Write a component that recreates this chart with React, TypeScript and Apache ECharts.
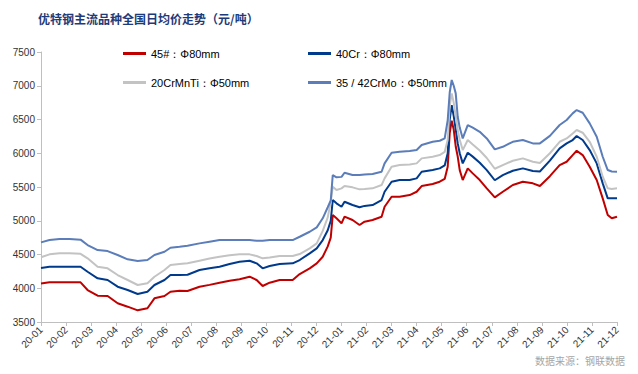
import React, { useEffect, useRef } from "react";
import * as echarts from "echarts";

const xLabels = [
  "20-01", "20-02", "20-03", "20-04", "20-05", "20-06", "20-07", "20-08", "20-09", "20-10", "20-11", "20-12",
  "21-01", "21-02", "21-03", "21-04", "21-05", "21-06", "21-07", "21-08", "21-09", "21-10", "21-11", "21-12",
];

const seriesNames = ["45#：Φ80mm", "40Cr：Φ80mm", "20CrMnTi：Φ50mm", "35 / 42CrMo：Φ50mm"];

// position in months since 20-01
const t = [
  0, 0.34, 0.74, 1.14, 1.58, 1.86, 2.26, 2.66, 3.06, 3.46, 3.86, 4.25, 4.53, 4.93, 5.17, 5.53, 5.85,
  6.33, 6.73, 7.13, 7.53, 7.93, 8.33, 8.61, 8.85, 9.13, 9.53, 10.05, 10.33, 10.73, 11.01, 11.25, 11.45,
  11.57, 11.65, 11.8, 12.0, 12.12, 12.44, 12.72, 12.92, 13.24, 13.6, 13.72, 14.0, 14.32, 14.72, 15.0,
  15.2, 15.64, 15.92, 16.12, 16.24, 16.32, 16.4, 16.48, 16.56, 16.64, 16.72, 16.84, 17.04, 17.24, 17.52,
  17.8, 18.12, 18.44, 18.84, 19.24, 19.64, 19.92, 20.32, 20.71, 20.99, 21.23, 21.39, 21.63, 21.91, 22.19,
  22.43, 22.63, 22.79, 23.0,
];

const s45 = [
  4070, 4088, 4090, 4090, 4088, 3974, 3890, 3885, 3777, 3727, 3673, 3703, 3851, 3885, 3949, 3964, 3960,
  4023, 4050, 4082, 4110, 4132, 4171, 4122, 4033, 4082, 4122, 4122, 4211, 4295, 4369, 4467, 4620,
  4750, 5085, 5036, 4962, 5060, 5011, 4937, 4986, 5011, 5060, 5208, 5356, 5356, 5381, 5430,
  5514, 5544, 5578, 5620, 5800, 6300, 6481, 6350, 6100, 5950, 5750, 5603, 5776, 5702, 5603,
  5480, 5346, 5430, 5529, 5578, 5554, 5514, 5660, 5825, 5874, 5973, 6037, 5973, 5800, 5603,
  5332, 5085, 5036, 5060,
];

const s40Cr = [
  4300, 4319, 4320, 4320, 4319, 4245, 4147, 4122, 4023, 3974, 3915, 3949, 4048, 4122, 4196, 4196, 4200,
  4270, 4295, 4319, 4360, 4393, 4408, 4369, 4295, 4329, 4359, 4369, 4418, 4517, 4591, 4714, 4860,
  5000, 5307, 5258, 5208, 5282, 5233, 5199, 5220, 5233, 5307, 5430, 5578, 5603, 5603, 5628,
  5726, 5751, 5776, 5820, 6000, 6500, 6714, 6550, 6350, 6146, 6000, 5850, 6007, 5950, 5860,
  5750, 5600, 5677, 5741, 5776, 5736, 5730, 5890, 6072, 6146, 6196, 6255, 6196, 6047, 5850,
  5554, 5332, 5332, 5332,
];

const s20CrMnTi = [
  4460, 4502, 4520, 4520, 4510, 4443, 4319, 4295, 4196, 4122, 4048, 4073, 4171, 4270, 4344, 4360, 4369,
  4408, 4440, 4467, 4490, 4502, 4502, 4477, 4443, 4455, 4477, 4477, 4507, 4591, 4665, 4850, 5050,
  5280, 5504, 5455, 5480, 5514, 5495, 5465, 5470, 5480, 5529, 5628, 5800, 5825, 5835, 5850,
  5924, 5948, 5973, 6020, 6200, 6700, 6887, 6750, 6550, 6344, 6200, 6047, 6196, 6130, 6040,
  5930, 5770, 5825, 5889, 5924, 5874, 5855, 6000, 6170, 6220, 6294, 6344, 6304, 6170, 5948,
  5652, 5480, 5470, 5480,
];

const s42CrMo = [
  4680, 4714, 4730, 4730, 4720, 4640, 4566, 4551, 4492, 4428, 4403, 4418, 4492, 4541, 4600, 4615, 4630,
  4665, 4690, 4714, 4714, 4714, 4714, 4704, 4704, 4714, 4714, 4714, 4763, 4837, 4902, 5036, 5200,
  5300, 5677, 5643, 5650, 5711, 5677, 5677, 5685, 5692, 5726, 5850, 6007, 6022, 6035, 6047,
  6121, 6170, 6185, 6220, 6492, 6900, 7085, 7000, 6887, 6540, 6380, 6220, 6418, 6380, 6318,
  6220, 6057, 6096, 6170, 6196, 6146, 6146, 6258, 6418, 6492, 6591, 6640, 6600, 6443, 6245,
  5948, 5751, 5730, 5726,
];

const colors = ["#C00000", "#003A8C", "#C3C3C3", "#5B7DB9"];

export default function App() {
  const ref = useRef<HTMLDivElement>(null);

  useEffect(() => {
    if (!ref.current) return;
    const chart = echarts.init(ref.current, undefined, { renderer: "svg" });
    const all = [s45, s40Cr, s20CrMnTi, s42CrMo];
    const legendText = { fontSize: 11, color: "#000", fontFamily: "Liberation Sans, Arial, sans-serif" };
    chart.setOption({
      animation: false,
      backgroundColor: "#fff",
      title: {
        text: "优特钢主流品种全国日均价走势（元/吨）",
        left: 33,
        top: 7,
        textStyle: {
          fontSize: 12,
          fontWeight: "bold",
          color: "#1F3A78",
          fontFamily: "Noto Sans CJK SC, sans-serif",
        },
      },
      legend: [
        {
          data: [seriesNames[0], seriesNames[2]],
          orient: "vertical",
          left: 118,
          top: 43,
          itemGap: 18,
          itemWidth: 23,
          itemHeight: 3,
          icon: "rect",
          textStyle: legendText,
        },
        {
          data: [seriesNames[1], seriesNames[3]],
          orient: "vertical",
          left: 303,
          top: 43,
          itemGap: 18,
          itemWidth: 23,
          itemHeight: 3,
          icon: "rect",
          textStyle: legendText,
        },
      ],
      graphic: [
        {
          type: "text",
          right: 13,
          top: 355,
          style: {
            text: "数据来源：钢联数据",
            fontSize: 10,
            fill: "#A6A6A6",
            fontFamily: "Noto Sans CJK SC, sans-serif",
          },
        },
      ],
      grid: { left: 41, right: 21, top: 52, bottom: 52 },
      xAxis: {
        type: "value",
        min: 0,
        max: 23,
        interval: 1,
        splitLine: { show: false },
        axisLine: { show: true, lineStyle: { color: "#BFBFBF" } },
        axisTick: { show: true, length: 4, lineStyle: { color: "#BFBFBF" } },
        axisLabel: {
          rotate: 45,
          fontSize: 10,
          color: "#333",
          margin: 6,
          fontFamily: "Liberation Sans, Arial, sans-serif",
          formatter: (v: number) => xLabels[Math.round(v)] ?? "",
        },
      },
      yAxis: {
        type: "value",
        min: 3500,
        max: 7500,
        interval: 500,
        splitLine: { show: false },
        axisLine: { show: true, lineStyle: { color: "#BFBFBF" } },
        axisTick: { show: true, length: 4, lineStyle: { color: "#BFBFBF" } },
        axisLabel: {
          fontSize: 10,
          color: "#333",
          margin: 6,
          fontFamily: "Liberation Sans, Arial, sans-serif",
          formatter: (v: number) => String(v),
        },
      },
      series: all.map((arr, i) => ({
        name: seriesNames[i],
        type: "line",
        showSymbol: false,
        symbol: "none",
        color: colors[i],
        lineStyle: { width: 2, color: colors[i] },
        data: arr.map((v, k) => [t[k], v]),
      })),
    });
    return () => chart.dispose();
  }, []);

  return (
    <div
      ref={ref}
      style={{ position: "absolute", left: 0, top: 0, width: 638, height: 374 }}
    />
  );
}
